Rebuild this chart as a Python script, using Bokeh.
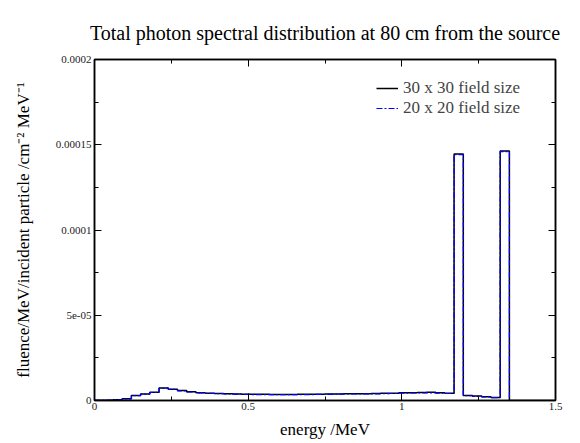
from bokeh.plotting import figure
from bokeh.models import FixedTicker, LinearAxis, Range1d, Legend, LegendItem, CustomJSTickFormatter
from bokeh.embed import file_html
from bokeh.resources import INLINE

# bin edges (MeV), 0.03 MeV bins
edges = [0.00, 0.03, 0.06, 0.09, 0.12, 0.15, 0.18, 0.21, 0.24, 0.27,
         0.30, 0.33, 0.36, 0.39, 0.42, 0.45, 0.48, 0.51, 0.54, 0.57,
         0.60, 0.63, 0.66, 0.69, 0.72, 0.75, 0.78, 0.81, 0.84, 0.87,
         0.90, 0.93, 0.96, 0.99, 1.02, 1.05, 1.08, 1.11, 1.14, 1.17,
         1.20, 1.23, 1.26, 1.29, 1.32, 1.35, 1.38, 1.41, 1.44, 1.47, 1.50]

# fluence per bin (units of 1e-6 /MeV/incident particle/cm^2)
fluence_30x30 = [0.1, 0.2, 0.4, 1.0, 3.0, 3.8, 4.8, 7.4, 6.6, 5.8,
                 5.1, 4.6, 4.3, 4.1, 3.9, 3.8, 3.7, 3.6, 3.6, 3.5,
                 3.5, 3.5, 3.6, 3.6, 3.7, 3.8, 3.8, 3.9, 4.0, 4.0,
                 4.1, 4.2, 4.3, 4.6, 4.6, 4.7, 4.8, 4.5, 4.3, 144.6,
                 3.0, 2.6, 2.2, 1.8, 146.4, 0.0, 0.0, 0.0, 0.0, 0.0]
fluence_20x20 = [0.1, 0.2, 0.4, 0.9, 2.9, 3.7, 4.7, 7.2, 6.5, 5.7,
                 5.0, 4.5, 4.2, 4.0, 3.8, 3.7, 3.6, 3.5, 3.4, 3.4,
                 3.4, 3.4, 3.5, 3.5, 3.6, 3.6, 3.7, 3.8, 3.8, 3.9,
                 3.9, 4.0, 4.1, 4.3, 4.4, 4.4, 4.5, 4.3, 4.1, 144.2,
                 2.8, 2.4, 2.1, 1.7, 146.0, 0.0, 0.0, 0.0, 0.0, 0.0]

x_ticks = [0, 0.5, 1.0, 1.5]
x_tick_labels = ["0", "0.5", "1", "1.5"]
x_minor = [0.25, 0.75, 1.25]
y_ticks = [0, 5e-05, 1e-04, 1.5e-04, 2e-04]
y_tick_labels = ["0", "5e-05", "0.0001", "0.00015", "0.0002"]
y_minor = [2.5e-05, 7.5e-05, 1.25e-04, 1.75e-04]

scale = 1e-6
y30 = [v * scale for v in fluence_30x30] + [fluence_30x30[-1] * scale]
y20 = [v * scale for v in fluence_20x20] + [fluence_20x20[-1] * scale]

FONT = "Liberation Serif"

p = figure(width=580, height=443, x_range=Range1d(0, 1.5), y_range=Range1d(0, 0.0002),
           output_backend="svg", toolbar_location=None,
           min_border_left=94, min_border_right=25, min_border_top=59, min_border_bottom=43,
           x_axis_location=None, y_axis_location=None)
p.grid.visible = False
p.outline_line_color = "black"
p.outline_line_width = 1.5
p.background_fill_color = "white"
p.border_fill_color = "white"

p.title.text = "Total photon spectral distribution at 80 cm from the source"
p.title.align = "center"
p.title.text_font = FONT
p.title.text_font_size = "20px"
p.title.text_font_style = "normal"
p.title.text_color = "black"
p.title.standoff = 32
p.title.offset = -4

xt = FixedTicker(ticks=x_ticks, minor_ticks=x_minor)
yt = FixedTicker(ticks=y_ticks, minor_ticks=y_minor)

def style(ax):
    ax.axis_line_color = "black"
    ax.axis_line_width = 1.5
    ax.major_tick_in = 7
    ax.major_tick_out = 0
    ax.minor_tick_in = 4
    ax.minor_tick_out = 0
    ax.major_tick_line_color = "black"
    ax.minor_tick_line_color = "black"
    ax.major_label_text_font = FONT
    ax.major_label_text_font_size = "11px"
    ax.major_label_text_color = "#222222"
    ax.axis_label_text_font = FONT
    ax.axis_label_text_font_size = "17px"
    ax.axis_label_text_font_style = "normal"
    ax.axis_label_text_color = "black"

xb = LinearAxis(ticker=xt, major_label_overrides=dict(zip(x_ticks, x_tick_labels)),
                axis_label="energy /MeV")
style(xb)
xb.major_label_standoff = 2
xb.axis_label_standoff = 7
p.add_layout(xb, "below")

yl = LinearAxis(ticker=yt, major_label_overrides=dict(zip(y_ticks, y_tick_labels)),
                axis_label="fluence/MeV/incident particle /cm\u207b\u00b2 MeV\u207b\u00b9")
style(yl)
yl.major_label_standoff = 3
yl.axis_label_standoff = 20
p.add_layout(yl, "left")

xa = LinearAxis(ticker=xt, formatter=CustomJSTickFormatter(code="return '';"))
style(xa)
xa.major_label_standoff = 0
p.add_layout(xa, "above")
yr = LinearAxis(ticker=yt, formatter=CustomJSTickFormatter(code="return '';"))
style(yr)
yr.major_label_standoff = 0
p.add_layout(yr, "right")

r30 = p.step(edges, y30, mode="after", line_color="black", line_width=1.5)
r20 = p.step(edges, y20, mode="after", line_color="#0000ff", line_width=1.2, line_dash="6 2 2 2")

legend = Legend(items=[LegendItem(label="30 x 30 field size", renderers=[r30]),
                       LegendItem(label="20 x 20 field size", renderers=[r20])],
                location=(282, 282), border_line_color=None, background_fill_alpha=0,
                label_text_font=FONT, label_text_font_size="17px",
                label_height=18, glyph_height=18, glyph_width=22, spacing=0,
                padding=0, margin=0, label_standoff=5)
p.add_layout(legend)

open("out.html", "w").write(file_html(p, INLINE))
